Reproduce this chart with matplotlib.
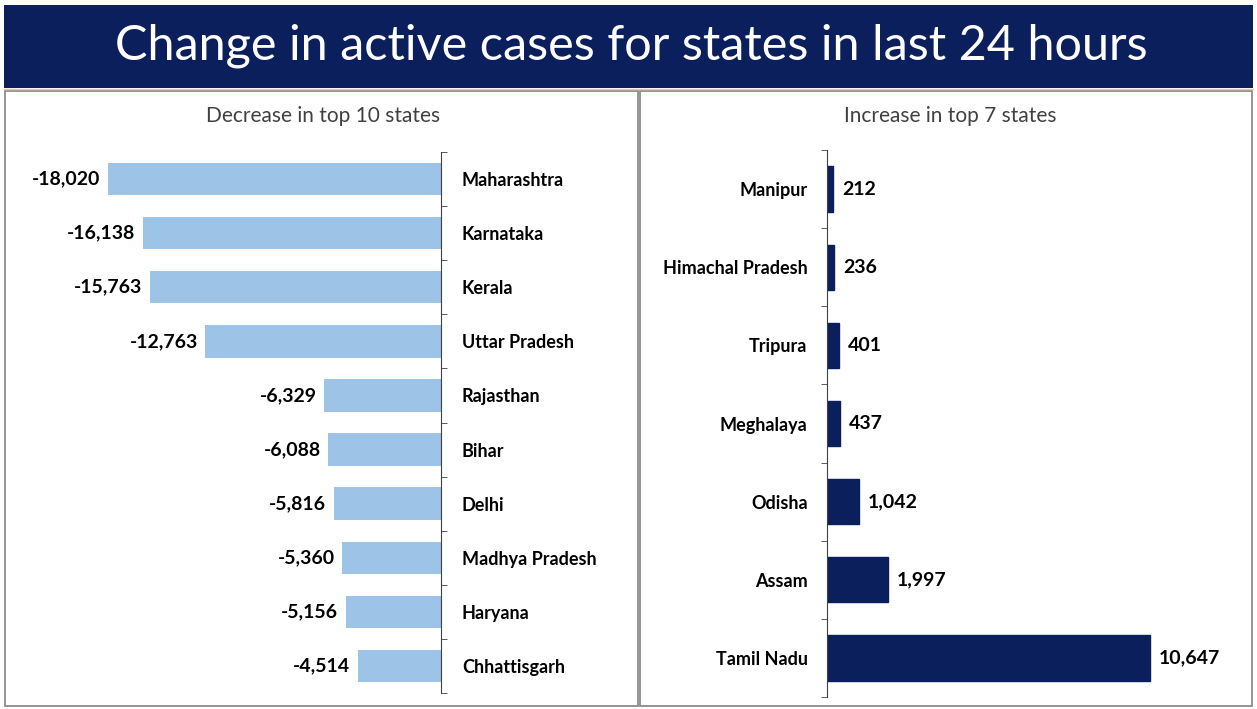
import matplotlib.pyplot as plt
from matplotlib.patches import Rectangle
from matplotlib.lines import Line2D
import numpy as np

plt.rcParams['font.family'] = ['Lato', 'DejaVu Sans']

# data
dec_states = ['Maharashtra', 'Karnataka', 'Kerala', 'Uttar Pradesh', 'Rajasthan',
              'Bihar', 'Delhi', 'Madhya Pradesh', 'Haryana', 'Chhattisgarh']
dec_values = [-18020, -16138, -15763, -12763, -6329, -6088, -5816, -5360, -5156, -4514]

inc_states = ['Manipur', 'Himachal Pradesh', 'Tripura', 'Meghalaya', 'Odisha', 'Assam', 'Tamil Nadu']
inc_values = [212, 236, 401, 437, 1042, 1997, 10647]

W, H = 1257, 709
fig = plt.figure(figsize=(W / 100, H / 100), dpi=100)
fig.patch.set_facecolor('white')

def fx(px):
    return px / W

def fy(py):
    return 1 - py / H

# title band
fig.patches.append(Rectangle((fx(4), fy(88)), fx(1249), 83 / H, transform=fig.transFigure,
                             facecolor='#0a1f5c', edgecolor='none', zorder=0))
fig.lines.append(Line2D([fx(4), fx(1253)], [fy(89), fy(89)], transform=fig.transFigure,
                        color='#e8c9a8', lw=1))
fig.text(fx(631), fy(46), 'Change in active cases for states in last 24 hours',
         color='white', fontsize=35, ha='center', va='center')

# panel borders
for x0, x1 in [(5, 638), (640, 1252)]:
    fig.patches.append(Rectangle((fx(x0), fy(706)), fx(x1 - x0), (706 - 91) / H,
                                 transform=fig.transFigure, facecolor='none',
                                 edgecolor='#8c8c8c', lw=1.3))

fig.text(fx(323), fy(116), 'Decrease in top 10 states', color='#404040',
         fontsize=15, ha='center', va='center')
fig.text(fx(950), fy(116), 'Increase in top 7 states', color='#404040',
         fontsize=15, ha='center', va='center')

# left panel: decreases
ax1 = fig.add_axes([fx(71.4), fy(693), fx(369.6), (693 - 152) / H])
y1 = np.arange(len(dec_states))
ax1.barh(y1, dec_values, height=0.6, color='#9dc3e6')
ax1.set_xlim(-20000, 0)
ax1.set_ylim(len(dec_states) - 0.5, -0.5)
for s in ['top', 'bottom', 'left']:
    ax1.spines[s].set_visible(False)
ax1.spines['right'].set_color('#404040')
ax1.xaxis.set_visible(False)
ax1.yaxis.tick_right()
ax1.set_yticks(y1)
ax1.set_yticklabels(dec_states, fontweight='bold', fontsize=13)
ax1.tick_params(axis='y', which='major', length=0, pad=15)
ax1.set_yticks(np.arange(-0.5, len(dec_states)), minor=True)
ax1.tick_params(axis='y', which='minor', length=4, color='#404040')
for yi, v in zip(y1, dec_values):
    ax1.text(v - 400, yi, f'{v:,}', ha='right', va='center', fontweight='bold', fontsize=14)

# right panel: increases
ax2 = fig.add_axes([fx(827), fy(697), fx(363.7), (697 - 150) / H])
y2 = np.arange(len(inc_states))
ax2.barh(y2, inc_values, height=0.58, color='#0a1f5c', edgecolor='#0a1f5c')
ax2.set_xlim(0, 12000)
ax2.set_ylim(len(inc_states) - 0.5, -0.5)
for s in ['top', 'bottom', 'right']:
    ax2.spines[s].set_visible(False)
ax2.spines['left'].set_color('#404040')
ax2.xaxis.set_visible(False)
ax2.set_yticks(y2)
ax2.set_yticklabels(inc_states, fontweight='bold', fontsize=13)
ax2.tick_params(axis='y', which='major', length=0, pad=14)
ax2.set_yticks(np.arange(-0.5, len(inc_states)), minor=True)
ax2.tick_params(axis='y', which='minor', length=4, color='#404040')
for yi, v in zip(y2, inc_values):
    ax2.text(v + 300, yi, f'{v:,}', ha='left', va='center', fontweight='bold', fontsize=14)

fig.savefig('out.png', dpi=100)
